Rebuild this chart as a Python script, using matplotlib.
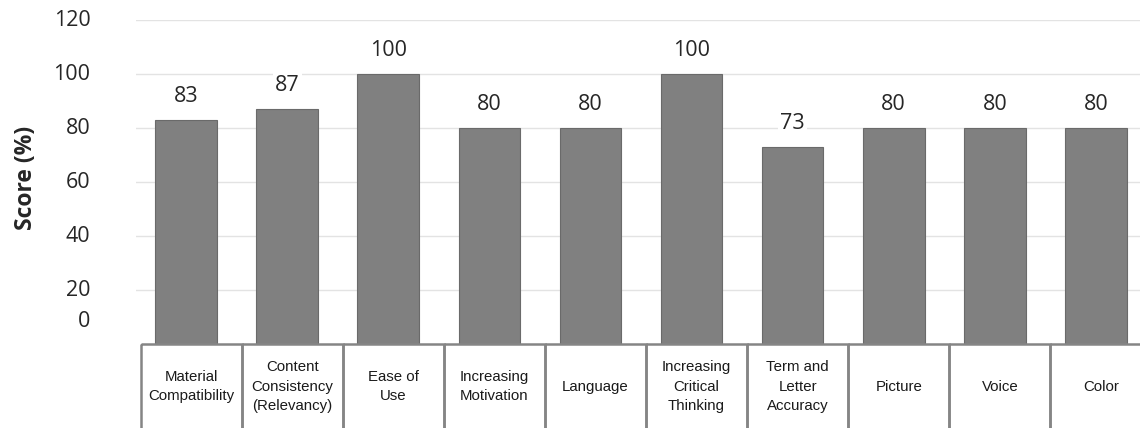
import matplotlib
matplotlib.use("Agg")
import matplotlib.pyplot as plt
from matplotlib.patches import Rectangle

categories = [
    "Material\nCompatibility",
    "Content\nConsistency\n(Relevancy)",
    "Ease of\nUse",
    "Increasing\nMotivation",
    "Language",
    "Increasing\nCritical\nThinking",
    "Term and\nLetter\nAccuracy",
    "Picture",
    "Voice",
    "Color",
]
scores = [83, 87, 100, 80, 80, 100, 73, 80, 80, 80]
y_ticks = [0, 20, 40, 60, 80, 100, 120]

W, H, DPI = 1140, 428, 100
fig = plt.figure(figsize=(W / DPI, H / DPI), dpi=DPI, facecolor="white")

left_px, right_px, top_px, base_px = 135.5, 1146.5, 20, 344
ax = fig.add_axes([left_px / W, (H - base_px) / H,
                   (right_px - left_px) / W, (base_px - top_px) / H])

num_font = "Open Sans"
x = list(range(len(categories)))
ax.bar(x, scores, width=0.61, color="#808080", edgecolor="#6a6a6a",
       linewidth=0.8, zorder=3)

ax.set_xlim(-0.5, len(categories) - 0.5)
ax.set_ylim(0, 120)
for v in y_ticks[1:]:
    ax.axhline(v, color="#e3e3e3", linewidth=1.0, zorder=1)
for s in ax.spines.values():
    s.set_visible(False)
ax.set_xticks([])
ax.set_yticks([])

# value labels above bars (white box hides the gridline behind)
for xi, v in zip(x, scores):
    ax.annotate(str(v), (xi, v), xytext=(0, 17), textcoords="offset points",
                ha="center", va="center", fontsize=15.5, family=num_font,
                color="#262626", zorder=4,
                bbox=dict(boxstyle="square,pad=0.1", fc="white", ec="none"))

# y tick labels
tick_offsets = {0: 8.5}
for v in y_ticks:
    ax.text(-0.946, v + tick_offsets.get(v, 0), str(v),
            ha="right", va="center", fontsize=15.5, family=num_font,
            color="#262626")

fig.text(26 / W, 1 - 178 / H, "Score (%)", rotation=90, ha="center",
         va="center", fontsize=16.5, fontweight="bold", family=num_font,
         color="#262626")

# category table under the plot
cell_color = "#858585"
for i, label in enumerate(categories):
    x0 = i - 0.45
    ax.add_patch(Rectangle((x0, 0), 1.0, -40, transform=ax.transData,
                           fill=False, edgecolor=cell_color, linewidth=1.8,
                           clip_on=False, zorder=5))
    ax.text(i + 0.05, -15.8, label, ha="center", va="center",
            fontsize=10.8, family=["Liberation Sans Narrow", "Liberation Sans"],
            color="#1a1a1a", linespacing=1.5, clip_on=False)

fig.savefig("out.png", dpi=DPI, facecolor="white")
